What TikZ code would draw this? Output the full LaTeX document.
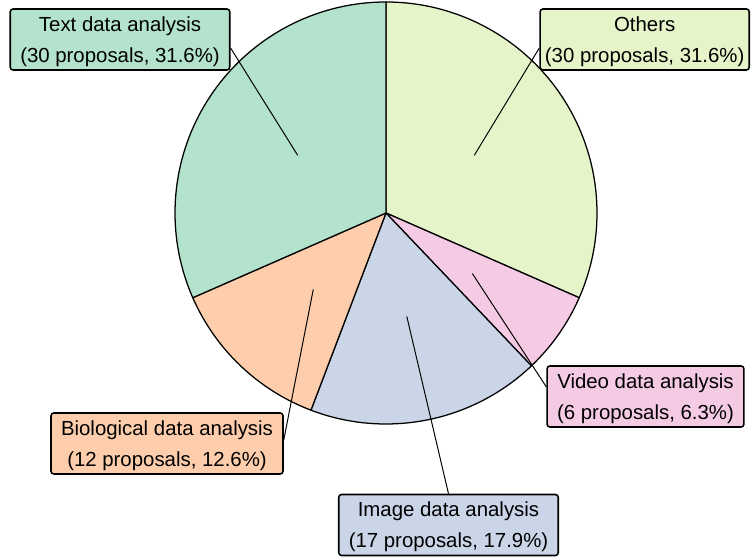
\documentclass[tikz,border=0pt]{standalone}
\usepackage{fontspec}
\setmainfont{Liberation Sans}
\usepackage{xcolor}
\usepackage{tikz}
\usetikzlibrary{positioning, calc}

\definecolor{textcol}{HTML}{B3E2CD}
\definecolor{biocol}{HTML}{FDCDAC}
\definecolor{imagecol}{HTML}{CBD5E8}
\definecolor{videocol}{HTML}{F4CAE4}
\definecolor{otherscol}{HTML}{E6F5C9}

\begin{document}
\begin{tikzpicture}[x=0.025cm, y=0.025cm,
  slice/.style={draw=black, line width=0.9pt, line join=round},
  lbl/.style={draw=black, line width=1.1pt, rounded corners=2pt, align=center,
    font=\fontsize{14.5pt}{22pt}\selectfont, inner xsep=0.25cm, inner ysep=0.1cm,
    minimum height=1.525cm, text depth=0pt},
  leader/.style={line width=0.7pt}]
\useasboundingbox (0,0) rectangle (751,559);
\coordinate (c) at (386,346);
% slices, clockwise from the top
\filldraw[slice, fill=otherscol] (c) -- ++(90:211) arc (90:-23.68:211) -- cycle;
\filldraw[slice, fill=videocol] (c) -- ++(-23.68:211) arc (-23.68:-46.42:211) -- cycle;
\filldraw[slice, fill=imagecol] (c) -- ++(-46.42:211) arc (-46.42:-110.84:211) -- cycle;
\filldraw[slice, fill=biocol] (c) -- ++(-110.84:211) arc (-110.84:-156.32:211) -- cycle;
\filldraw[slice, fill=textcol] (c) -- ++(-156.32:211) arc (-156.32:-270:211) -- cycle;
% points inside the slices
\coordinate (pothers) at ($(c)+(33.16:105.5)$);
\coordinate (pvideo) at ($(c)+(-35.05:105.5)$);
\coordinate (pimage) at ($(c)+(-78.63:105.5)$);
\coordinate (pbio) at ($(c)+(-133.58:105.5)$);
\coordinate (ptext) at ($(c)+(146.84:105.5)$);
% labels
\node[lbl, fill=textcol] (textlbl) at (120,519.5) {Text data analysis\\(30 proposals, 31.6\%)};
\node[lbl, fill=otherscol, inner xsep=0.12cm, anchor=east] (otherslbl) at (750,519.5) {Others\\(30 proposals, 31.6\%)};
\node[lbl, fill=videocol] (videolbl) at (645.5,162.5) {Video data analysis\\(6 proposals, 6.3\%)};
\node[lbl, fill=biocol] (biolbl) at (167,115.5) {Biological data analysis\\(12 proposals, 12.6\%)};
\node[lbl, fill=imagecol] (imagelbl) at (448.5,34) {Image data analysis\\(17 proposals, 17.9\%)};
% leader lines
\draw[leader] (ptext) -- ([yshift=-0.21cm]textlbl.east);
\draw[leader] (pothers) -- ([yshift=-0.21cm]otherslbl.west);
\draw[leader] (pvideo) -- ([yshift=0.24cm]videolbl.west);
\draw[leader] (pbio) -- ([yshift=0.09cm]biolbl.east);
\draw[leader] (pimage) -- (imagelbl.north);
\end{tikzpicture}
\end{document}
